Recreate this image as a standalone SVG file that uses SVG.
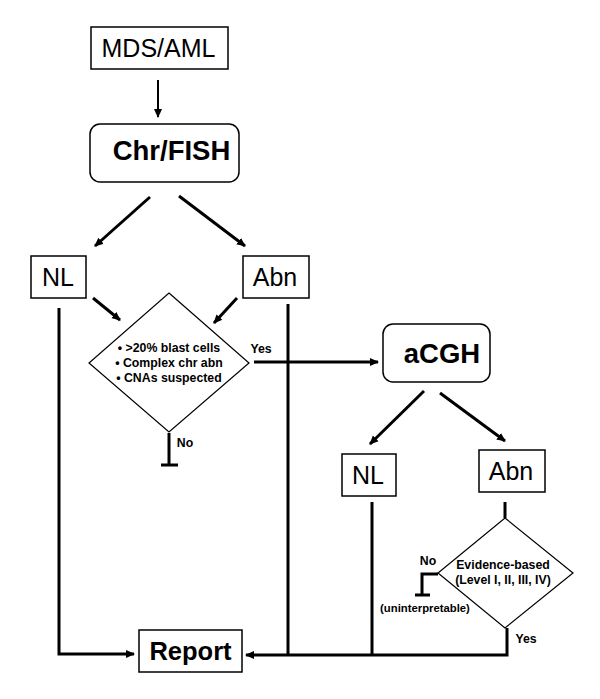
<svg xmlns="http://www.w3.org/2000/svg" width="600" height="699" viewBox="0 0 600 699">
<style>
.box{fill:#fff;stroke:#000;stroke-width:1.5}
.dia{fill:#fff;stroke:#000;stroke-width:1.2}
.ln{fill:none;stroke:#000;stroke-width:3}
.thin{fill:none;stroke:#000;stroke-width:2}
.t{font-family:"Liberation Sans",Arial,sans-serif;fill:#000;text-anchor:middle}
.b{font-weight:bold}
.s{font-size:12.3px;font-weight:bold}
</style>
<defs>
<marker id="ah" markerWidth="10" markerHeight="10" refX="8" refY="5" orient="auto" markerUnits="userSpaceOnUse">
<path d="M0,1 L9,5 L0,9 z" fill="#000"/>
</marker>
</defs>
<rect width="600" height="699" fill="#fff"/>
<g id="connectors">
<line class="thin" x1="158" y1="80" x2="158" y2="117" marker-end="url(#ah)"/>
<line class="ln" x1="150" y1="197" x2="95" y2="246" marker-end="url(#ah)"/>
<line class="ln" x1="179" y1="196" x2="245" y2="246" marker-end="url(#ah)"/>
<line class="ln" x1="93" y1="298" x2="120" y2="320" marker-end="url(#ah)"/>
<line class="ln" x1="237" y1="298" x2="214" y2="323" marker-end="url(#ah)"/>
<polyline class="ln" points="59,308 59,654 134,654" marker-end="url(#ah)"/>
<line class="ln" x1="288" y1="304" x2="288" y2="655"/>
<line class="ln" x1="254" y1="362" x2="378" y2="362" marker-end="url(#ah)"/>
<line class="ln" x1="169" y1="433" x2="169" y2="465"/>
<line class="ln" x1="161" y1="465" x2="178" y2="465"/>
<line class="ln" x1="424" y1="391" x2="370" y2="444" marker-end="url(#ah)"/>
<line class="ln" x1="440" y1="393" x2="505" y2="441" marker-end="url(#ah)"/>
<line class="ln" x1="372" y1="502" x2="372" y2="655"/>
<line class="ln" x1="505" y1="502" x2="505" y2="518"/>
<polyline class="ln" points="438,574 422,574 422,595"/>
<line class="ln" x1="415" y1="595" x2="430" y2="595"/>
<polyline class="ln" points="507,628 507,655 246,655" marker-end="url(#ah)"/>
</g>
<g id="mds"><rect class="box" x="91" y="27" width="137" height="42"/><text class="t" x="158.500" y="57" font-size="25">MDS/AML</text></g>
<g id="chrfish"><rect class="box" x="90" y="124" width="149" height="58" rx="10"/><text class="t b" x="171.500" y="160" font-size="27.500">Chr/FISH</text></g>
<g id="nl1"><rect class="box" x="31" y="256" width="55" height="42"/><text class="t" x="58" y="286" font-size="25">NL</text></g>
<g id="abn1"><rect class="box" x="243" y="256" width="66" height="42"/><text class="t" x="275" y="286" font-size="25">Abn</text></g>
<g id="crit"><polygon class="dia" points="169,293 249,363 169,432 89,363"/>
<text class="t s" x="169" y="352">• &gt;20% blast cells</text>
<text class="t s" x="169" y="367">• Complex chr abn</text>
<text class="t s" x="169" y="382">• CNAs suspected</text>
<text class="t s" x="261" y="353">Yes</text>
<text class="t s" x="185" y="447">No</text></g>
<g id="acgh"><rect class="box" x="383" y="324" width="107" height="58" rx="10"/><text class="t b" x="442" y="363" font-size="27.500">aCGH</text></g>
<g id="nl2"><rect class="box" x="342" y="454" width="54" height="42"/><text class="t" x="368" y="484" font-size="25">NL</text></g>
<g id="abn2"><rect class="box" x="479" y="450" width="66" height="42"/><text class="t" x="511" y="480" font-size="25">Abn</text></g>
<g id="evid"><polygon class="dia" points="505,518 573,573 505,628 438,573"/>
<text class="t s" x="503" y="569">Evidence-based</text>
<text class="t s" x="503" y="584">(Level I, II, III, IV)</text>
<text class="t s" x="428" y="565">No</text>
<text class="t s" x="425" y="612" style="font-size:11.3px">(uninterpretable)</text>
<text class="t s" x="526" y="643">Yes</text></g>
<g id="report"><rect class="box" x="139" y="630" width="103" height="42"/><text class="t b" x="190.500" y="660" font-size="25.500">Report</text></g>
</svg>
